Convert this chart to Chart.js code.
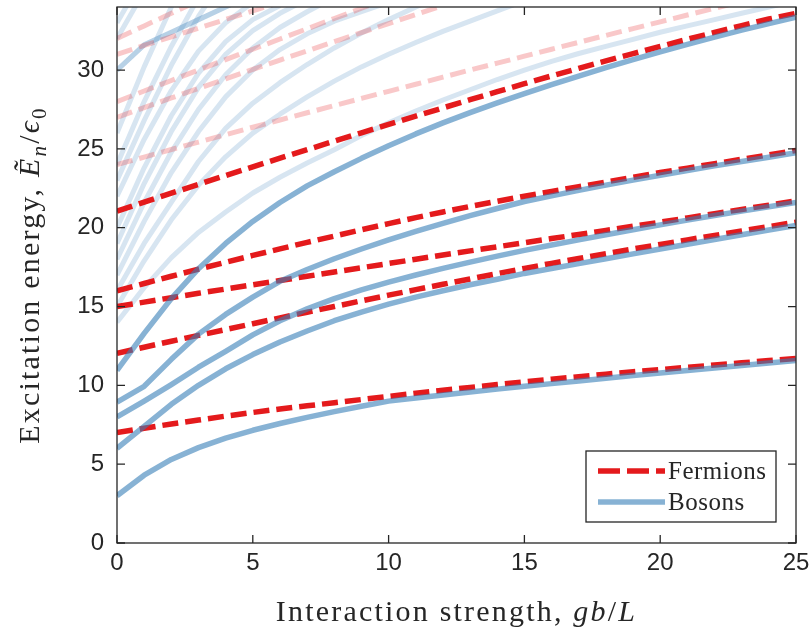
<!DOCTYPE html>
<html><head><meta charset="utf-8">
<script src="https://cdn.jsdelivr.net/npm/chart.js@4.4.0/dist/chart.umd.min.js"></script>
<style>html,body{margin:0;padding:0;background:#fff}</style>
</head><body>
<canvas id="c" width="812" height="630"></canvas>
<script>
// ---------------- data ----------------
const gValues = [0,1,2,3,4,5,6,7,8,9,10,11,12,13,14,15,16,17,18,19,20,21,22,23,24,25];
const xTicks = [0,5,10,15,20,25];
const yTicks = [0,5,10,15,20,25,30];

// main fermion levels
const fermion7  = [7.0,7.28,7.55,7.8,8.05,8.28,8.5,8.7,8.9,9.1,9.3,9.5,9.69,9.87,10.05,10.22,10.39,10.55,10.71,10.86,11.0,11.15,11.29,11.43,11.57,11.7];
const fermion12 = [12.04,12.42,12.8,13.17,13.54,13.91,14.28,14.64,15.0,15.36,15.72,16.07,16.41,16.75,17.09,17.42,17.74,18.05,18.35,18.65,18.94,19.23,19.51,19.79,20.07,20.35];
const fermion15 = [15.0,15.28,15.56,15.84,16.11,16.38,16.65,16.92,17.19,17.46,17.73,18.0,18.27,18.53,18.79,19.05,19.31,19.57,19.83,20.09,20.35,20.62,20.89,21.16,21.43,21.7];
const fermion16 = [16.0,16.46,16.92,17.37,17.81,18.24,18.66,19.07,19.47,19.87,20.26,20.64,21.0,21.35,21.68,22.0,22.3,22.6,22.9,23.2,23.5,23.78,24.06,24.34,24.62,24.9];
const fermion21 = [21.05,21.62,22.19,22.75,23.31,23.86,24.41,24.95,25.49,26.02,26.55,27.08,27.6,28.12,28.63,29.14,29.63,30.11,30.58,31.04,31.5,31.95,32.39,32.82,33.24,33.6];

// main boson levels
const boson3  = [3.0,4.3,5.3,6.05,6.65,7.15,7.58,7.97,8.33,8.67,9.0,9.2,9.39,9.58,9.76,9.94,10.11,10.28,10.45,10.62,10.78,10.94,11.1,11.26,11.42,11.58];
const boson6  = [6.0,7.4,8.8,10.0,11.05,11.95,12.75,13.45,14.1,14.65,15.15,15.6,16.0,16.38,16.73,17.1,17.41,17.72,18.03,18.34,18.65,18.95,19.25,19.55,19.85,20.15];
const boson8  = [8.0,9.0,10.05,11.15,12.15,13.2,14.1,14.85,15.5,16.05,16.55,17.0,17.42,17.82,18.2,18.56,18.9,19.23,19.55,19.87,20.18,20.48,20.77,21.05,21.33,21.6];
const boson9  = [8.94,9.94,11.65,13.25,14.5,15.6,16.6,17.35,18.03,18.65,19.23,19.77,20.28,20.76,21.22,21.66,22.02,22.37,22.7,23.02,23.33,23.63,23.92,24.2,24.47,24.75];
const boson11 = [10.95,13.3,15.5,17.4,19.0,20.4,21.6,22.65,23.55,24.4,25.2,25.95,26.65,27.3,27.92,28.5,29.07,29.62,30.15,30.66,31.15,31.63,32.09,32.53,32.95,33.35];

// higher (faded) fermion levels
const fermionHi24 = [24.0,24.48,24.96,25.43,25.9,26.37,26.83,27.29,27.75,28.2,28.65,29.1,29.55,30.0,30.44,30.88,31.32,31.76,32.2,32.63,33.06,33.49,33.92,34.35];
const fermionHi27 = [27.0,27.62,28.23,28.84,29.44,30.04,30.63,31.22,31.8,32.38,32.95,33.52,34.09];
const fermionHi28 = [28.0,28.67,29.34,30.0,30.66,31.32,31.97,32.62,33.27,33.92,34.57];
const fermionHi31 = [31.0,31.56,32.11,32.66,33.21,33.75,34.3];
const fermionHi32 = [32.0,32.8,33.6,34.4];

// higher (faded) boson levels
const bosonHi14 = [14,16.2,18.1,19.7,21.0,22.2,23.2,24.1,24.95,25.85,26.65,27.4,28.1,28.75,29.4,30.0,30.55,31.05,31.5,31.95,32.4,32.8,33.2,33.6,34.0,34.4];
const bosonHi15 = [15,17.9,20.5,22.7,24.5,26.0,27.2,28.3,29.3,30.2,31.0,31.75,32.45,33.1,33.75,34.4];
const bosonHi16 = [16,19.0,21.6,24.2,26.3,27.9,29.2,30.35,31.4,32.35,33.2,34.0,34.8];
const bosonHi17 = [17,20.4,23.5,26.1,28.3,30.0,31.3,32.3,33.1,33.7,34.3];
const bosonHi18 = [18,21.6,24.8,27.5,29.7,31.4,32.7,33.7,34.6];
const bosonHi19 = [19,22.8,26.1,28.9,31.0,32.5,33.6,34.5];
const bosonHi20 = [20,23.8,27.1,29.8,31.8,33.2,34.1];
const bosonHi22 = [22,25.6,28.7,31.2,33.0,34.3];
const bosonHi23 = [23,26.8,30.3,33.4,36];
const bosonHi24 = [24,28.0,31.5,34.6];
const bosonHi26 = [26,30.2,34.0,37];
const bosonHi30 = [30,31.6,32.4,33.2,34.0,34.8];
const bosonHi32 = [32,35];
const bosonHi33 = [33,36];

const mainFermions = [fermion7, fermion12, fermion15, fermion16, fermion21];
const mainBosons = [boson3, boson6, boson8, boson9, boson11];
const hiFermions = [fermionHi24, fermionHi27, fermionHi28, fermionHi31, fermionHi32];
const hiBosons = [bosonHi14, bosonHi15, bosonHi16, bosonHi17, bosonHi18, bosonHi19, bosonHi20, bosonHi22, bosonHi23, bosonHi24, bosonHi26, bosonHi30, bosonHi30, bosonHi32, bosonHi33];

const legendLabels = ['Fermions', 'Bosons'];
const xTitleParts = [
  {t:'Interaction strength, ', style:'', sub:false},
  {t:'gb', style:'italic', sub:false},
  {t:'/', style:'', sub:false},
  {t:'L', style:'italic', sub:false}
];
const yTitleParts = [
  {t:'Excitation energy, ', style:'', sub:false},
  {t:'\u1EBC', style:'italic', sub:false},
  {t:'n', style:'italic', sub:true},
  {t:'/', style:'', sub:false},
  {t:'\u03F5', style:'italic', sub:false},
  {t:'0', style:'', sub:true}
];

// ---------------- styles ----------------
const RED = 'rgb(228,26,28)';
const BLUE = 'rgba(55,126,184,0.6)';
const RED_FADED = 'rgba(228,26,28,0.24)';
const BLUE_FADED = 'rgba(55,126,184,0.2)';
const DASH = [16,7];
const SERIF = "'Liberation Serif','Times New Roman',serif";
const SANS = "'Liberation Sans',Arial,Helvetica,sans-serif";
const INK = '#262626';

function pts(arr){ return arr.map((v,i)=>({x:gValues[i], y:v})); }
function ds(arr, color, dashed, order, w){
  return {data:pts(arr), borderColor:color, backgroundColor:color, borderWidth:w,
    borderDash: dashed?DASH:[], borderCapStyle:'butt', borderJoinStyle:'round',
    pointRadius:0, pointHoverRadius:0, tension:0, fill:false, clip:0, order:order};
}
const datasets = [];
mainBosons.forEach(a=>datasets.push(ds(a, BLUE, false, 0, 5.5)));
mainFermions.forEach(a=>datasets.push(ds(a, RED, true, 1, 5.5)));
hiFermions.forEach(a=>datasets.push(ds(a, RED_FADED, true, 2, 5)));
hiBosons.forEach(a=>datasets.push(ds(a, BLUE_FADED, false, 3, 5)));

function drawParts(ctx, parts, size, cx, baseY, spacing){
  const fonts = parts.map(p=>(p.style?p.style+' ':'') + (p.sub?Math.round(size*0.7):size) + 'px ' + SERIF);
  ctx.letterSpacing = spacing + 'px';
  let w = 0;
  parts.forEach((p,i)=>{ ctx.font = fonts[i]; w += ctx.measureText(p.t).width; });
  let x = cx - w/2;
  parts.forEach((p,i)=>{
    ctx.font = fonts[i];
    ctx.fillText(p.t, x, baseY + (p.sub ? size*0.22 : 0));
    x += ctx.measureText(p.t).width;
  });
  ctx.letterSpacing = '0px';
}

const decor = {
  id:'decor',
  afterDraw(chart){
    const {ctx, chartArea:a, scales:{x, y}} = chart;
    ctx.save();
    ctx.strokeStyle = INK; ctx.lineWidth = 1.3;
    ctx.strokeRect(a.left, a.top, a.right-a.left, a.bottom-a.top);
    const L = 8;
    ctx.beginPath();
    x.ticks.forEach(t=>{ const p = x.getPixelForValue(t.value);
      ctx.moveTo(p, a.bottom); ctx.lineTo(p, a.bottom-L);
      ctx.moveTo(p, a.top); ctx.lineTo(p, a.top+L); });
    y.ticks.forEach(t=>{ const p = y.getPixelForValue(t.value);
      ctx.moveTo(a.left, p); ctx.lineTo(a.left+L, p);
      ctx.moveTo(a.right, p); ctx.lineTo(a.right-L, p); });
    ctx.stroke();

    ctx.fillStyle = INK; ctx.textBaseline = 'alphabetic'; ctx.textAlign = 'left';
    drawParts(ctx, xTitleParts, 30, (a.left+a.right)/2, 621, 2.2);
    ctx.save();
    ctx.translate(39, (a.top+a.bottom)/2);
    ctx.rotate(-Math.PI/2);
    drawParts(ctx, yTitleParts, 30, 0, 0, 2.2);
    ctx.restore();

    const bw = 190, bh = 71;
    const bx = a.right - 20 - bw, by = a.bottom - 21 - bh;
    ctx.fillStyle = '#fff';
    ctx.fillRect(bx, by, bw, bh);
    ctx.strokeStyle = INK; ctx.lineWidth = 1.3;
    ctx.strokeRect(bx, by, bw, bh);
    const items = [
      {label:legendLabels[0], color:RED, dash:DASH, y:by+20},
      {label:legendLabels[1], color:BLUE, dash:[], y:by+51}
    ];
    items.forEach(it=>{
      ctx.beginPath();
      ctx.strokeStyle = it.color; ctx.lineWidth = 5.5; ctx.lineCap = 'butt';
      ctx.setLineDash(it.dash.length ? [22,7] : []);
      ctx.moveTo(bx+12, it.y); ctx.lineTo(bx+79, it.y);
      ctx.stroke();
      ctx.setLineDash([]);
      ctx.fillStyle = INK;
      ctx.font = '25px ' + SERIF;
      ctx.letterSpacing = '0.5px';
      ctx.textBaseline = 'middle';
      ctx.fillText(it.label, bx+82, it.y+1);
      ctx.letterSpacing = '0px';
    });
    ctx.restore();
  }
};

new Chart(document.getElementById('c'), {
  type:'line',
  data:{datasets},
  options:{
    responsive:false, animation:false, devicePixelRatio:1,
    layout:{padding:{left:0, right:16, top:7, bottom:0}},
    plugins:{legend:{display:false}, tooltip:{enabled:false}},
    scales:{
      x:{type:'linear', min:0, max:25,
        afterBuildTicks:s=>{ s.ticks = xTicks.map(v=>({value:v})); },
        afterFit:s=>{ s.height = 87; s.paddingLeft = 0; s.paddingRight = 0; },
        grid:{display:false, drawTicks:false}, border:{display:false},
        ticks:{color:INK, padding:6, font:{family:SANS, size:24}, maxRotation:0}
      },
      y:{type:'linear', min:0, max:34,
        afterBuildTicks:s=>{ s.ticks = yTicks.map(v=>({value:v})); },
        afterFit:s=>{ s.width = 117; s.paddingTop = 0; s.paddingBottom = 0; },
        grid:{display:false, drawTicks:false}, border:{display:false},
        ticks:{color:INK, padding:13, font:{family:SANS, size:24}}
      }
    }
  },
  plugins:[decor]
});
</script>
</body></html>
